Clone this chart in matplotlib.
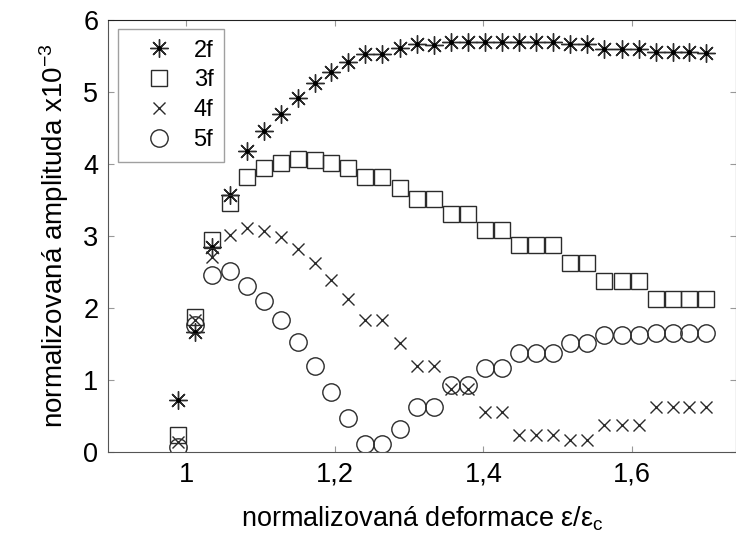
import matplotlib
matplotlib.use("Agg")
import matplotlib.pyplot as plt

plt.rcParams["font.family"] = ["Liberation Sans", "DejaVu Sans"]
plt.rcParams["axes.formatter.use_locale"] = False

# deformation steps (eps/eps_c)
strain = [0.989, 1.012, 1.035, 1.058, 1.081, 1.104, 1.127, 1.150,
          1.173, 1.195, 1.218, 1.241, 1.264, 1.287, 1.310, 1.333,
          1.356, 1.379, 1.402, 1.425, 1.448, 1.471, 1.494, 1.517,
          1.540, 1.563, 1.586, 1.609, 1.632, 1.655, 1.677, 1.700]

# harmonic amplitudes x 1e-3
amp_2f = [0.72, 1.67, 2.85, 3.57, 4.18, 4.46, 4.70, 4.92,
          5.12, 5.28, 5.42, 5.53, 5.53, 5.61, 5.66, 5.65,
          5.69, 5.69, 5.70, 5.70, 5.69, 5.69, 5.69, 5.66,
          5.66, 5.60, 5.60, 5.60, 5.55, 5.55, 5.55, 5.54]
amp_3f = [0.24, 1.88, 2.94, 3.46, 3.82, 3.94, 4.02, 4.07,
          4.06, 4.02, 3.95, 3.82, 3.82, 3.67, 3.51, 3.51,
          3.31, 3.31, 3.09, 3.09, 2.87, 2.87, 2.87, 2.62,
          2.62, 2.37, 2.37, 2.37, 2.12, 2.12, 2.12, 2.12]
amp_4f = [0.14, 1.83, 2.71, 3.02, 3.11, 3.07, 2.98, 2.82,
          2.63, 2.39, 2.12, 1.83, 1.83, 1.51, 1.20, 1.20,
          0.87, 0.87, 0.55, 0.55, 0.24, 0.24, 0.24, 0.17,
          0.17, 0.375, 0.375, 0.375, 0.62, 0.62, 0.62, 0.62]
amp_5f = [0.07, 1.76, 2.46, 2.52, 2.31, 2.10, 1.84, 1.53,
          1.20, 0.84, 0.47, 0.11, 0.11, 0.32, 0.63, 0.63,
          0.93, 0.93, 1.16, 1.16, 1.37, 1.37, 1.37, 1.52,
          1.52, 1.62, 1.62, 1.62, 1.65, 1.65, 1.65, 1.65]

labels = ["2f", "3f", "4f", "5f"]
xticks = [1.0, 1.2, 1.4, 1.6]
xtick_labels = ["1", "1,2", "1,4", "1,6"]
yticks = [0, 1, 2, 3, 4, 5, 6]

ink = "#2b2b2b"

fig = plt.figure(figsize=(7.36, 5.43), dpi=100)
ax = fig.add_axes([108 / 736, 1 - 452 / 543, 1 - 108 / 736, (452 - 20) / 543])

common = dict(linestyle="none", markerfacecolor="none", markeredgecolor=ink)
star, = ax.plot(strain, amp_2f, marker=(8, 2, 0), markersize=13,
                markeredgewidth=1.0, **common)
dot, = ax.plot(strain, amp_2f, marker="o", markersize=2.5, linestyle="none",
               color="black")
sq, = ax.plot(strain, amp_3f, marker="s", markersize=11, markeredgewidth=1.0, **common)
cross, = ax.plot(strain, amp_4f, marker="x", markersize=9, markeredgewidth=1.0, **common)
circ, = ax.plot(strain, amp_5f, marker="o", markersize=12.5, markeredgewidth=1.0, **common)

ax.set_xlim(0.8943, 1.7402)
ax.set_ylim(0, 6)
ax.set_xticks(xticks)
ax.set_xticklabels(xtick_labels)
ax.set_yticks(yticks)
ax.tick_params(direction="in", length=4, width=0.8, color="#999999",
               labelsize=19.5, top=True, right=True, pad=7)

for side in ("left", "bottom"):
    ax.spines[side].set_color("#555555")
for side in ("top", "right"):
    ax.spines[side].set_color("#222222")

ax.set_xlabel("normalizovaná deformace ε/ε$\\mathregular{_c}$", fontsize=19.5, labelpad=12)
ax.set_ylabel("normalizovaná amplituda x10$\\mathregular{^{-3}}$", fontsize=20, labelpad=9)

leg = ax.legend([(star, dot), sq, cross, circ], labels, loc="upper left",
                bbox_to_anchor=(0.016, 0.979), fontsize=17, frameon=True,
                fancybox=False, edgecolor="#888888", borderpad=0.45,
                labelspacing=0.33, handlelength=2.6, handletextpad=0.15,
                borderaxespad=0)
leg.get_frame().set_linewidth(1.0)

fig.savefig("out.png", dpi=100)
plt.close(fig)
